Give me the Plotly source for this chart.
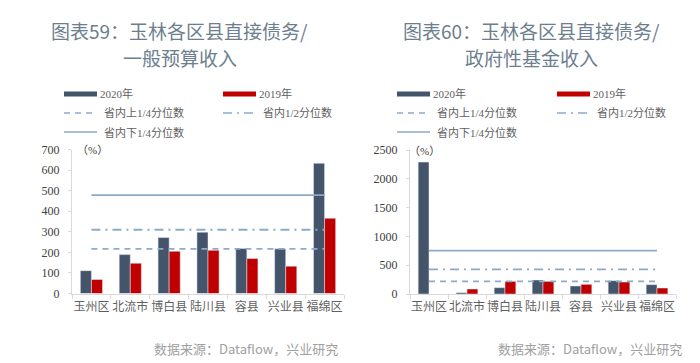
import plotly.graph_objects as go

categories = ["玉州区", "北流市", "博白县", "陆川县", "容县", "兴业县", "福绵区"]

# Chart 59: direct debt / general budget revenue (%)
left_2020 = [111, 189, 272, 298, 219, 217, 633]
left_2019 = [68, 147, 205, 210, 170, 133, 366]
left_upper_q = 217
left_median = 310
left_lower_q = 478

# Chart 60: direct debt / government fund revenue (%)
right_2020 = [2290, 23, 110, 243, 139, 231, 162]
right_2019 = [None, 87, 220, 220, 168, 208, 104]
right_upper_q = 220
right_median = 428
right_lower_q = 752

left_yticks = [0, 100, 200, 300, 400, 500, 600, 700]
right_yticks = [0, 500, 1000, 1500, 2000, 2500]

titles = [["图表59：玉林各区县直接债务/", "一般预算收入"],
          ["图表60：玉林各区县直接债务/", "政府性基金收入"]]
legend_labels = ["2020年", "2019年", "省内上1/4分位数", "省内1/2分位数", "省内下1/4分位数"]
source_text = "数据来源：Dataflow，兴业研究"

DARK = "#44546a"
RED = "#c00000"
LINE = "#8fa9c8"
AXIS = "#d9d9d9"
SERIF = "Liberation Serif, Noto Sans CJK SC"

W, H = 700, 363

def px(x):
    return x / W

def py(y):
    return 1 - y / H

fig = go.Figure()

panels = [
    dict(xa="x", ya="y", d2020=left_2020, d2019=left_2019,
         lines=(left_upper_q, left_median, left_lower_q)),
    dict(xa="x2", ya="y2", d2020=right_2020, d2019=right_2019,
         lines=(right_upper_q, right_median, right_lower_q)),
]

for p in panels:
    fig.add_trace(go.Bar(x=categories, y=p["d2020"], marker_color=DARK,
                         xaxis=p["xa"], yaxis=p["ya"], showlegend=False))
    fig.add_trace(go.Bar(x=categories, y=p["d2019"], marker_color=RED,
                         xaxis=p["xa"], yaxis=p["ya"], showlegend=False))
    dashes = ["6px,5px", "9px,5px,2px,5px", "solid"]
    for val, dash in zip(p["lines"], dashes):
        fig.add_trace(go.Scatter(x=[categories[0], categories[-1]], y=[val, val],
                                 mode="lines", line=dict(color=LINE, width=1.8, dash=dash),
                                 xaxis=p["xa"], yaxis=p["ya"], showlegend=False,
                                 hoverinfo="skip"))

xcommon = dict(showline=True, linecolor=AXIS, linewidth=1, ticks="outside",
               tickson="boundaries", ticklen=4, tickcolor=AXIS, tickangle=0,
               automargin=False, ticklabelstandoff=2,
               tickfont=dict(family=SERIF, size=12, color="#5f5f5f"),
               showgrid=False, zeroline=False, fixedrange=True)
ycommon = dict(showline=True, linecolor=AXIS, linewidth=1, ticks="outside",
               ticklen=3, tickcolor=AXIS, automargin=False, ticklabelstandoff=6,
               tickfont=dict(family=SERIF, size=12, color="#404040"),
               showgrid=False, zeroline=False, fixedrange=True)

fig.update_layout(
    width=W, height=H,
    margin=dict(l=0, r=0, t=0, b=0, autoexpand=False),
    paper_bgcolor="white", plot_bgcolor="white",
    barmode="group", bargap=0.43, bargroupgap=0,
    xaxis=dict(domain=[px(72), px(344)], anchor="y", **xcommon),
    yaxis=dict(domain=[py(293.5), py(149.5)], anchor="x", range=[0, 700],
               tickvals=left_yticks, **ycommon),
    xaxis2=dict(domain=[px(410), px(676)], anchor="y2", **xcommon),
    yaxis2=dict(domain=[py(294), py(150)], anchor="x2", range=[0, 2500],
                tickvals=right_yticks, **ycommon),
    showlegend=False,
)

anns = []
shapes = []

def ann(x, y, text, font, xanchor="center"):
    anns.append(dict(x=px(x), y=py(y), text=text, showarrow=False, xref="paper", yref="paper",
                     xanchor=xanchor, yanchor="middle", font=font))

# titles
tfont = dict(family="Noto Sans CJK SC", size=19, color="#6d7e8e")
for cx, (l1, l2) in zip([180, 531], titles):
    ann(cx, 31, l1, tfont)
    ann(cx, 57, l2, tfont)

# legends
lfont = dict(family=SERIF, size=11, color="#606060")
for x0, x1 in [(64, 223), (397, 557)]:
    rows = [(94, x0, "bar", DARK, legend_labels[0]),
            (94, x1, "bar", RED, legend_labels[1]),
            (113, x0, "6px,5px", LINE, legend_labels[2]),
            (113, x1, "9px,5px,2px,5px", LINE, legend_labels[3]),
            (132, x0, "solid", LINE, legend_labels[4])]
    for yy, xx, kind, col, lab in rows:
        if kind == "bar":
            shapes.append(dict(type="rect", xref="paper", yref="paper",
                               x0=px(xx), x1=px(xx + 33), y0=py(yy + 2.5), y1=py(yy - 2.5),
                               fillcolor=col, line=dict(width=0)))
            tx = xx + 34
        else:
            shapes.append(dict(type="line", xref="paper", yref="paper",
                               x0=px(xx), x1=px(xx + 33), y0=py(yy), y1=py(yy),
                               line=dict(color=col, width=1.5, dash=kind)))
            tx = xx + 38
        ann(tx, yy, lab, lfont, xanchor="left")

# unit labels
for ux, uy in [(92, 150), (424, 151)]:
    ann(ux, uy, "（%）", dict(family=SERIF, size=11, color="#404040"))

# sources
for sx in [246, 590]:
    ann(sx, 348, source_text, dict(family="Noto Sans CJK SC", size=13, color="#a0a0a0"))

fig.update_layout(annotations=anns, shapes=shapes)

fig.write_html("out.html", config={"displayModeBar": False},
               post_script="document.body.style.margin='0px';")
